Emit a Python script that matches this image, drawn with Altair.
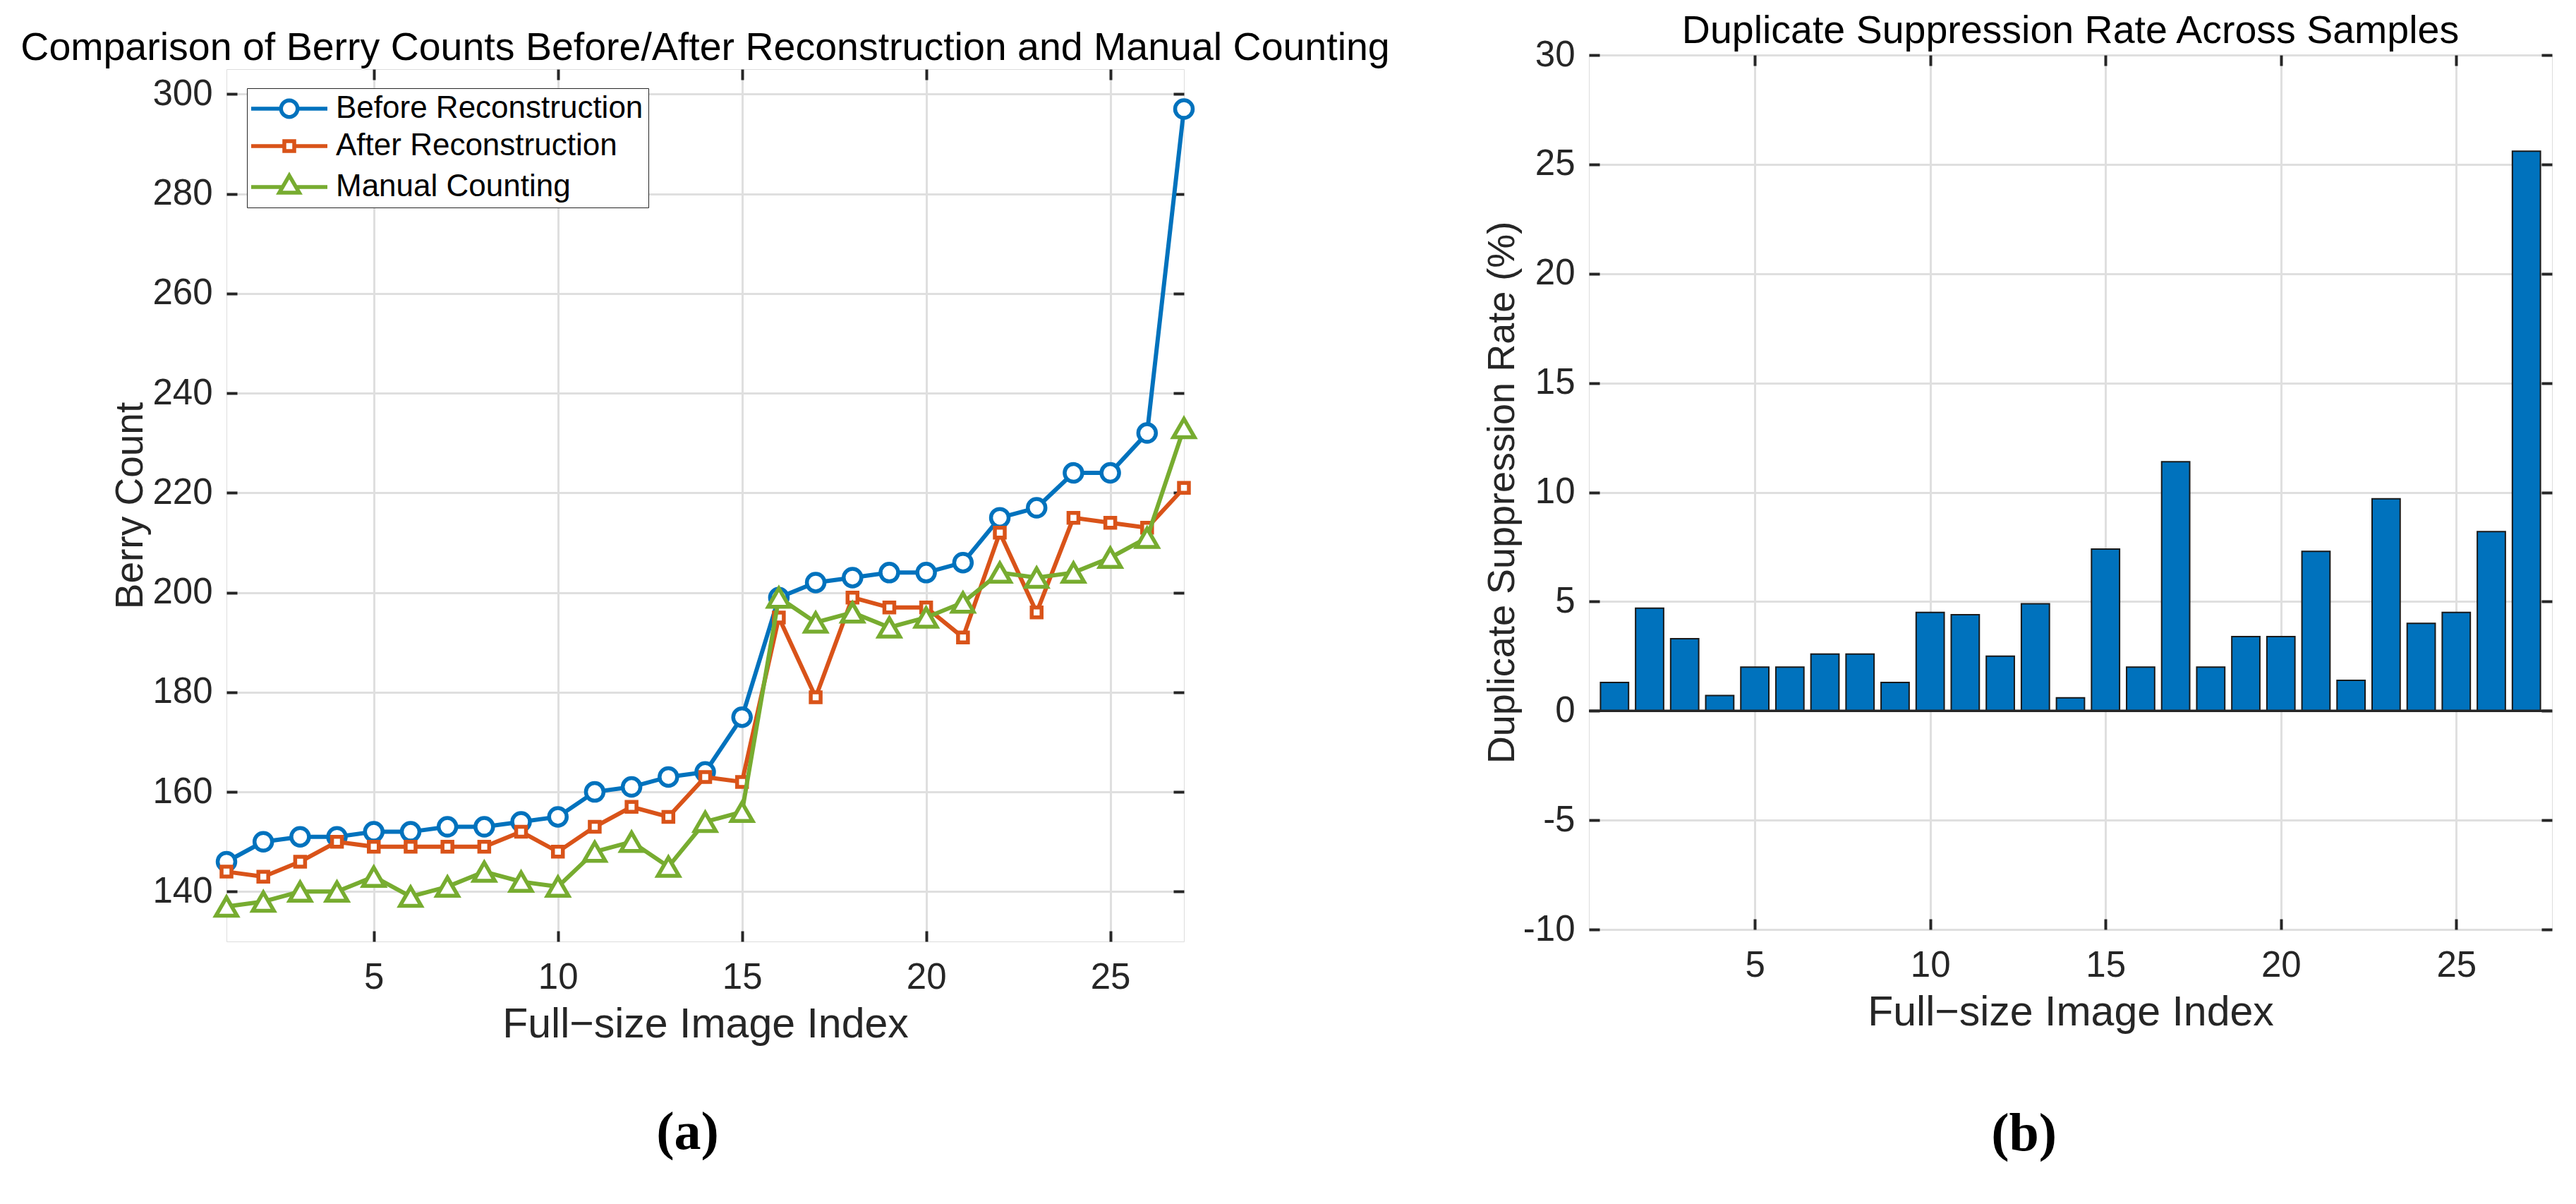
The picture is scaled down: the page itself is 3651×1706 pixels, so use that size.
import math

import pandas as pd
import altair as alt

FONT = "Liberation Sans"
INK = "#262626"
GRID = "#dfdfdf"
SERIES_COLORS = ["#0072BD", "#D95319", "#77AC30"]
SERIES_SHAPES = ["circle", "square", "triangle-up"]
SERIES_SIZES = [625, 196, 900]
BAR_COLOR = "#0072BD"

# data
image_index = list(range(1, 28))
before_counts = [146, 150, 151, 151, 152, 152, 153, 153, 154, 155, 160, 161, 163, 164,
                 175, 199, 202, 203, 204, 204, 206, 215, 217, 224, 224, 232, 297]
after_counts = [144, 143, 146, 150, 149, 149, 149, 149, 152, 148, 153, 157, 155, 163,
                162, 195, 179, 199, 197, 197, 191, 212, 196, 215, 214, 213, 221]
manual_counts = [137, 138, 140, 140, 143, 139, 141, 144, 142, 141, 148, 150, 145, 154,
                 156, 199, 194, 196, 193, 195, 198, 204, 203, 204, 207, 211, 233]
suppression_rate = [1.3, 4.7, 3.3, 0.7, 2.0, 2.0, 2.6, 2.6, 1.3, 4.5, 4.4, 2.5, 4.9, 0.6,
                    7.4, 2.0, 11.4, 2.0, 3.4, 3.4, 7.3, 1.4, 9.7, 4.0, 4.5, 8.2, 25.6]
series_names = ["Before Reconstruction", "After Reconstruction", "Manual Counting"]

index_ticks = [5, 10, 15, 20, 25]
count_ticks = [140, 160, 180, 200, 220, 240, 260, 280, 300]
rate_ticks = [-10, -5, 0, 5, 10, 15, 20, 25, 30]

counts_df = pd.DataFrame({
    "index": image_index * 3,
    "count": before_counts + after_counts + manual_counts,
    "series": sum([[name] * len(image_index) for name in series_names], []),
})
rate_df = pd.DataFrame({"index": image_index, "rate": suppression_rate})


def main_axis(orient, values, title, label_pad, title_pad, title_size):
    # ticks point inwards: axis pulled 15px inside, ticks drawn back out to the frame
    return alt.Axis(
        orient=orient, values=values, title=title, domain=False,
        ticks=True, tickSize=15, tickWidth=4, tickColor=INK, offset=-15,
        grid=True, gridColor=GRID, gridWidth=3,
        labelFont=FONT, labelFontSize=51, labelColor=INK, labelPadding=label_pad,
        labelExpr="datum.value + ''",
        titleFont=FONT, titleFontSize=title_size, titleColor=INK, titleFontWeight="normal",
        titlePadding=title_pad,
    )


def edge_axis(orient, values):
    return alt.Axis(
        orient=orient, values=values, title="", labels=False, domain=False,
        ticks=True, tickSize=15, tickWidth=4, tickColor=INK, offset=-15, grid=False,
    )


def ring(r, n=28):
    pts = [(r * math.cos(2 * math.pi * k / n), r * math.sin(2 * math.pi * k / n)) for k in range(n)]
    return "M" + "L".join(f"{x:.3f},{y:.3f}" for x, y in pts) + "Z"


def legend_glyph(marker, gap):
    return f"M-4,0L{-gap},0M{gap},0L4,0" + marker


legend_shapes = [
    legend_glyph(ring(0.87), 0.87),
    legend_glyph("M-0.52,-0.52L0.52,-0.52L0.52,0.52L-0.52,0.52Z", 0.52),
    legend_glyph("M0,-1.2L1.05,0.6L-1.05,0.6Z", 0.7),
]

# ---------- (a) berry counts ----------
x_counts = alt.Scale(domain=[1, 27], nice=False, zero=False)
y_counts = alt.Scale(domain=[130, 305], nice=False, zero=False)
x_counts_axis = main_axis("bottom", index_ticks, "Full\u2212size Image Index", 26, 12, 59)
y_counts_axis = main_axis("left", count_ticks, "Berry Count", 20, 2, 55)

legend_cfg = alt.Legend(
    title=None, orient="none", legendX=29, legendY=47,
    strokeColor=INK, fillColor="white", padding=7,
    labelFont=FONT, labelFontSize=44, labelColor="black", labelLimit=1000,
    labelOffset=44, symbolOffset=31, symbolSize=729, symbolStrokeWidth=5.5,
    symbolOpacity=1, rowPadding=8,
)

counts_base = alt.Chart(counts_df)
x_enc = alt.X("index:Q", scale=x_counts, axis=x_counts_axis)
y_enc = alt.Y("count:Q", scale=y_counts, axis=y_counts_axis)

series_layers = []
for name, color, shape, size in zip(series_names, SERIES_COLORS, SERIES_SHAPES, SERIES_SIZES):
    one = counts_base.transform_filter(alt.datum.series == name)
    series_layers.append(one.mark_line(color=color, strokeWidth=6).encode(x=x_enc, y=y_enc))
    series_layers.append(
        one.mark_point(shape=shape, size=size, filled=True, fill="white", stroke=color,
                       strokeWidth=5.5, opacity=1).encode(x=x_enc, y=y_enc)
    )

keys = counts_base.mark_point(opacity=0, filled=False).encode(
    x=x_enc,
    y=y_enc,
    color=alt.Color("series:N", scale=alt.Scale(domain=series_names, range=SERIES_COLORS),
                    legend=legend_cfg),
    shape=alt.Shape("series:N", scale=alt.Scale(domain=series_names, range=legend_shapes),
                    legend=legend_cfg),
)

counts_frame = counts_base.mark_point(opacity=0).encode(
    x=alt.X("index:Q", scale=x_counts, axis=edge_axis("top", index_ticks)),
    y=alt.Y("count:Q", scale=y_counts, axis=edge_axis("right", count_ticks)),
)

counts_chart = alt.layer(
    alt.layer(*series_layers, keys),
    counts_frame,
).resolve_axis(x="independent", y="independent").properties(
    width=1357, height=1236,
    title=alt.TitleParams(
        "Comparison of Berry Counts Before/After Reconstruction and Manual Counting",
        font=FONT, fontSize=55.5, fontWeight="normal", color="black", offset=0,
    ),
)

spacer = alt.Chart(pd.DataFrame({"v": [0]})).mark_point(opacity=0).encode(
    x=alt.X("v:Q", axis=None), y=alt.Y("v:Q", axis=None),
).properties(width=1, height=1, view=alt.ViewBackground(stroke="transparent"))

caption_style = dict(orient="bottom", anchor="middle", frame="bounds", font="Liberation Serif",
                     fontSize=76, fontWeight="bold", color="black")

left_panel = alt.vconcat(
    spacer, counts_chart, spacing=19, bounds="flush",
    title=alt.TitleParams("(a)", dx=-25, offset=86, **caption_style),
)

# ---------- (b) duplicate suppression rate ----------
x_rate = alt.Scale(domain=[0.27, 27.73], nice=False, zero=False)
y_rate = alt.Scale(domain=[-10, 30], nice=False, zero=False)
x_rate_axis = main_axis("bottom", index_ticks, "Full\u2212size Image Index", 26, 12, 59)
y_rate_axis = main_axis("left", rate_ticks, "Duplicate Suppression Rate (%)", 20, 2, 54)

rate_base = alt.Chart(rate_df).transform_calculate(
    lo="datum.index - 0.4", hi="datum.index + 0.4"
)

bars = rate_base.mark_rect(color=BAR_COLOR, stroke="#1a1a1a", strokeWidth=2).encode(
    x=alt.X("lo:Q", scale=x_rate, axis=x_rate_axis),
    x2="hi:Q",
    y=alt.Y("rate:Q", scale=y_rate, axis=y_rate_axis),
    y2=alt.Y2(datum=0),
)

baseline = alt.Chart(pd.DataFrame({"zero": [0]})).mark_rule(color=INK, strokeWidth=3.5).encode(
    y=alt.Y("zero:Q", scale=y_rate, axis=y_rate_axis),
)

rate_frame = rate_base.mark_point(opacity=0).encode(
    x=alt.X("index:Q", scale=x_rate, axis=edge_axis("top", index_ticks)),
    y=alt.Y("rate:Q", scale=y_rate, axis=edge_axis("right", rate_ticks)),
)

rate_chart = alt.layer(
    alt.layer(bars, baseline),
    rate_frame,
).resolve_axis(x="independent", y="independent").properties(
    width=1365, height=1239,
    title=alt.TitleParams(
        "Duplicate Suppression Rate Across Samples",
        font=FONT, fontSize=55.5, fontWeight="normal", color="black", offset=-20,
    ),
)

right_panel = alt.vconcat(
    rate_chart, bounds="flush",
    title=alt.TitleParams("(b)", dx=8, offset=105, **caption_style),
)

chart = alt.hconcat(left_panel, right_panel, spacing=1931, bounds="flush").properties(
    padding={"left": 20, "top": 8, "right": 5, "bottom": 5},
).configure_view(
    stroke=INK, strokeWidth=4,
).configure_legend(
    strokeWidth=3,
).configure(font=FONT)

chart.save("out.html", embed_options={"renderer": "svg", "actions": False})
